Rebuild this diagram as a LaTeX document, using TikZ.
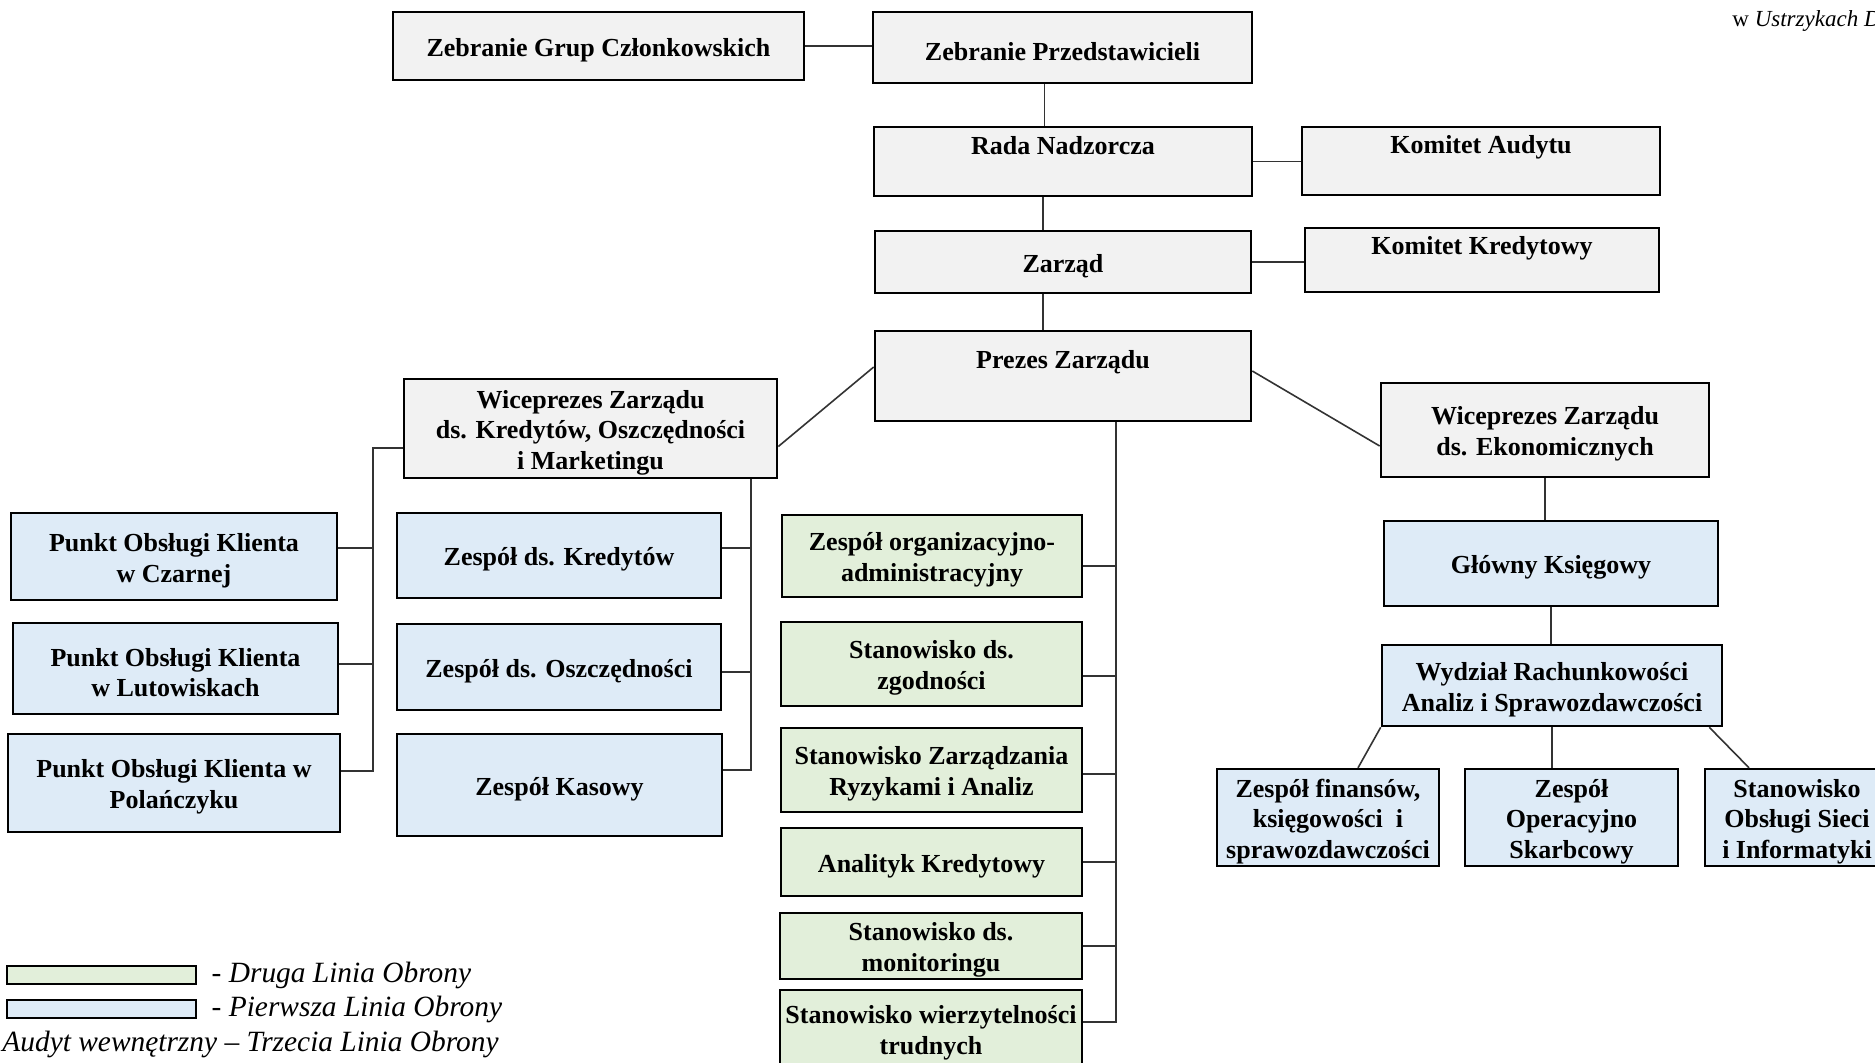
\documentclass[tikz,border=0pt]{standalone}
\usepackage{fontspec}
\setmainfont{Liberation Serif}
\usetikzlibrary{positioning}
\definecolor{szary}{RGB}{242,242,242}
\definecolor{niebieski}{RGB}{222,235,247}
\definecolor{zielony}{RGB}{226,239,218}
\newcommand{\odstep}{\rule{0pt}{13pt}}

\begin{document}
\begin{tikzpicture}[x=0.5pt,y=-0.5pt,node distance=7pt]
\tikzstyle{box}=[draw=black,line width=1.3pt,align=center,inner sep=1pt,font=\bfseries\fontsize{13}{15.3}\selectfont,execute at begin node={\odstep}]
\tikzstyle{zarz}=[box,fill=szary]
\tikzstyle{pierwsza}=[box,fill=niebieski]
\tikzstyle{druga}=[box,fill=zielony]
\tikzstyle{pasek}=[draw=black,line width=1.3pt,inner sep=0pt,minimum width=94.5pt,minimum height=9pt]
\tikzstyle{linia}=[draw=black!80,line width=0.8pt]
\tikzstyle{legenda}=[inner sep=0pt,font=\itshape\fontsize{14.7}{17}\selectfont]

\useasboundingbox (0,0) rectangle (1875,1062);

\node[anchor=base west,inner sep=0pt,font=\fontsize{11.5}{13}\selectfont] (miejsce) at (1732,26) {w \textit{Ustrzykach D}};

\node[zarz,minimum width=205.5pt,minimum height=34pt] (zgc) at (598.5,46) {Zebranie Grup Członkowskich};
\node[zarz,minimum width=189.5pt,minimum height=35.5pt] (zp) at (1062.5,47.5) {Zebranie Przedstawicieli};
\node[zarz,minimum width=189pt,inner ysep=0pt,text height=13.75pt,text depth=20.75pt] (rada) at (1063,161.5) {Rada Nadzorcza};
\node[zarz,minimum width=179pt,inner ysep=0pt,text height=13.25pt,text depth=20.75pt] (ka) at (1481,161) {Komitet Audytu};
\node[zarz,minimum width=188pt,minimum height=31pt] (zarzad) at (1063,262) {Zarząd};
\node[zarz,minimum width=177pt,inner ysep=0pt,text height=13.25pt,text depth=18.75pt] (kk) at (1482,260) {Komitet Kredytowy};
\node[zarz,minimum width=188pt,inner ysep=0pt,text height=18.75pt,text depth=26.25pt] (prezes) at (1063,376) {Prezes Zarządu};
\node[zarz,minimum width=186.5pt,minimum height=49.5pt] (wl) at (590.5,428.5) {\odstep Wiceprezes Zarządu\\ds. Kredytów, Oszczędności\\i Marketingu};
\node[zarz,minimum width=164pt,minimum height=47pt] (we) at (1545,430) {\odstep Wiceprezes Zarządu\\ds. Ekonomicznych};

\node[pierwsza,minimum width=163pt,minimum height=43.5pt] (pk1) at (174,556.5) {\odstep Punkt Obsługi Klienta\\w Czarnej};
\node[pierwsza,minimum width=162.5pt,minimum height=45.5pt] (pk2) at (175.5,668.5) {\odstep Punkt Obsługi Klienta\\w Lutowiskach};
\node[pierwsza,minimum width=166pt,minimum height=49pt] (pk3) at (174,783) {\odstep Punkt Obsługi Klienta w\\Polańczyku};
\node[pierwsza,minimum width=162pt,minimum height=42.5pt] (zk) at (559,555.5) {Zespół ds. Kredytów};
\node[pierwsza,minimum width=162pt,minimum height=43pt] (zo) at (559,667) {Zespół ds. Oszczędności};
\node[pierwsza,minimum width=162.5pt,minimum height=51pt] (zkas) at (559.5,785) {Zespół Kasowy};

\node[druga,minimum width=150pt,minimum height=41pt] (g1) at (932,556) {\odstep Zespół organizacyjno-\\administracyjny};
\node[druga,minimum width=150.5pt,minimum height=42pt] (g2) at (931.5,664) {\odstep Stanowisko ds.\\zgodności};
\node[druga,minimum width=150.5pt,minimum height=42pt] (g3) at (931.5,770) {\odstep Stanowisko Zarządzania\\Ryzykami i Analiz};
\node[druga,minimum width=150.5pt,minimum height=34pt] (g4) at (931.5,862) {Analityk Kredytowy};
\node[druga,minimum width=151pt,minimum height=32pt] (g5) at (931,946) {\odstep Stanowisko ds.\\monitoringu};
\node[druga,minimum width=151pt,minimum height=39pt] (g6) at (931,1029) {\odstep Stanowisko wierzytelności\\trudnych};

\node[pierwsza,minimum width=167pt,minimum height=42.5pt] (gk) at (1551,563.5) {Główny Księgowy};
\node[pierwsza,minimum width=170pt,minimum height=40.5pt] (wr) at (1552,685.5) {\odstep Wydział Rachunkowości\\Analiz i Sprawozdawczości};
\node[pierwsza,minimum width=111pt,minimum height=47.5pt] (zf) at (1328,817.5) {\odstep Zespół finansów,\\księgowości~ i\\sprawozdawczości};
\node[pierwsza,minimum width=106.5pt,minimum height=47.5pt] (zop) at (1571.5,817.5) {\odstep Zespół\\Operacyjno\\Skarbcowy};
\node[pierwsza,minimum width=92pt,minimum height=47.5pt] (sos) at (1797,817.5) {\odstep Stanowisko\\Obsługi Sieci\\i Informatyki};

\node[pasek,fill=zielony] (lg1) at (101.5,975) {};
\node[pasek,fill=niebieski] (lg2) at (101.5,1009) {};
\node[legenda,right=7pt of lg1] (t1) {- Druga Linia Obrony};
\node[legenda,right=7pt of lg2] (t2) {- Pierwsza Linia Obrony};
\node[legenda,anchor=west] (t3) at (2,1044) {Audyt wewnętrzny – Trzecia Linia Obrony};

\coordinate (szyna1) at (1116,0);
\coordinate (szyna2) at (751,0);
\coordinate (szyna3) at (373,0);

\draw[linia] (zgc.east) -- (zgc.east -| zp.west);
\draw[linia] ([xshift=-9pt]zp.south) -- ([xshift=-9pt]zp.south |- rada.north);
\draw[linia] ([xshift=-10pt]rada.south) -- ([xshift=-10pt]rada.south |- zarzad.north);
\draw[linia] ([xshift=-10pt]zarzad.south) -- ([xshift=-10pt]zarzad.south |- prezes.north);
\draw[linia] (rada.east) -- (rada.east -| ka.west);
\draw[linia] (zarzad.east) -- (zarzad.east -| kk.west);
\draw[linia] ([yshift=4.5pt]prezes.west) -- ([yshift=-9pt]wl.east);
\draw[linia] ([yshift=2.5pt]prezes.east) -- ([yshift=-8pt]we.west);

\draw[linia] (prezes.south -| szyna1) |- ([yshift=3.5pt]g6.east);
\foreach \g/\s in {g1/-5pt,g2/-6pt,g3/-2pt,g4/0pt,g5/0pt}
  \draw[linia] ([yshift=\s]\g.east) -- ([yshift=\s]\g.east -| szyna1);

\draw[linia] (wl.south -| szyna2) |- ([yshift=7.5pt]zkas.east);
\foreach \z/\s in {zk/3.75pt,zo/-2.5pt}
  \draw[linia] ([yshift=\s]\z.east) -- ([yshift=\s]\z.east -| szyna2);

\draw[linia] ([yshift=-9.75pt]wl.west) -| ([yshift=6pt]pk3.east -| szyna3) -- ([yshift=6pt]pk3.east);
\foreach \p/\s in {pk1/4.25pt,pk2/2.25pt}
  \draw[linia] ([yshift=\s]\p.east) -- ([yshift=\s]\p.east -| szyna3);

\draw[linia] (we.south) -- (we.south |- gk.north);
\draw[linia] (gk.south) -- (gk.south |- wr.north);
\draw[linia] (wr.south west) -- ([xshift=15pt]zf.north);
\draw[linia] (wr.south) -- (wr.south |- zop.north);
\draw[linia] ([xshift=-7pt]wr.south east) -- ([xshift=-24pt]sos.north);
\end{tikzpicture}
\end{document}
